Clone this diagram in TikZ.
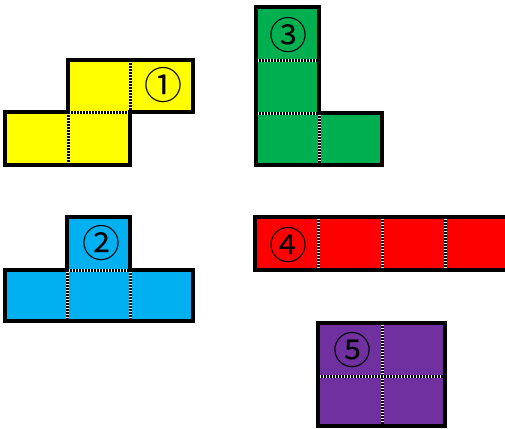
\documentclass[tikz,border=0pt]{standalone}
\usepackage{fontspec}
\newfontfamily\circfont{Noto Sans CJK SC}
\definecolor{pyellow}{HTML}{FFFF00}
\definecolor{pgreen}{HTML}{00B050}
\definecolor{pblue}{HTML}{00B0F0}
\definecolor{pred}{HTML}{FF0000}
\definecolor{ppurple}{HTML}{7030A0}
\tikzset{
  piece/.style={draw=black,line width=4pt,line join=miter},
  divline/.style={draw=white,line width=3pt,
    postaction={draw=black,line width=3pt,dash pattern=on 1.5pt off 1.5pt}},
  numlabel/.style={font=\circfont\fontsize{38}{38}\selectfont,inner sep=0pt,text=black}
}
\begin{document}
\begin{tikzpicture}[x=1pt,y=-1pt]
\useasboundingbox (0,0) rectangle (505,428);
\clip (0,0) rectangle (505,428);
% piece 1 (yellow)
\fill[pyellow] (68,60) -- (193,60) -- (193,112) -- (130,112) -- (130,165) -- (5,165) -- (5,112) -- (68,112) -- cycle;
\draw[divline] (130,60) -- (130,112);
\draw[divline] (68,112) -- (130,112);
\draw[divline] (68,112) -- (68,165);
\draw[piece] (68,60) -- (193,60) -- (193,112) -- (130,112) -- (130,165) -- (5,165) -- (5,112) -- (68,112) -- cycle;
\node[numlabel] (n1) at (163,85) {①};
% piece 3 (green)
\fill[pgreen] (256,7) -- (319,7) -- (319,113) -- (382,113) -- (382,165) -- (256,165) -- cycle;
\draw[divline] (256,60) -- (319,60);
\draw[divline] (256,113) -- (319,113);
\draw[divline] (319,113) -- (319,165);
\draw[piece] (256,7) -- (319,7) -- (319,113) -- (382,113) -- (382,165) -- (256,165) -- cycle;
\node[numlabel] (n3) at (288,35) {③};
% piece 2 (blue)
\fill[pblue] (67,217) -- (130,217) -- (130,270) -- (193,270) -- (193,321) -- (5,321) -- (5,270) -- (67,270) -- cycle;
\draw[divline] (67,270) -- (130,270);
\draw[divline] (67,270) -- (67,321);
\draw[divline] (130,270) -- (130,321);
\draw[piece] (67,217) -- (130,217) -- (130,270) -- (193,270) -- (193,321) -- (5,321) -- (5,270) -- (67,270) -- cycle;
\node[numlabel] (n2) at (101,243) {②};
% piece 4 (red)
\fill[pred] (255,217) rectangle (510,270);
\draw[divline] (318,217) -- (318,270);
\draw[divline] (382,217) -- (382,270);
\draw[divline] (445,217) -- (445,270);
\draw[piece] (255,217) rectangle (510,270);
\node[numlabel] (n4) at (288,245) {④};
% piece 5 (purple)
\fill[ppurple] (318,323) rectangle (445,426);
\draw[divline] (382,323) -- (382,426);
\draw[divline] (318,376) -- (445,376);
\draw[piece] (318,323) rectangle (445,426);
\node[numlabel] (n5) at (352,350) {⑤};
\end{tikzpicture}
\end{document}
